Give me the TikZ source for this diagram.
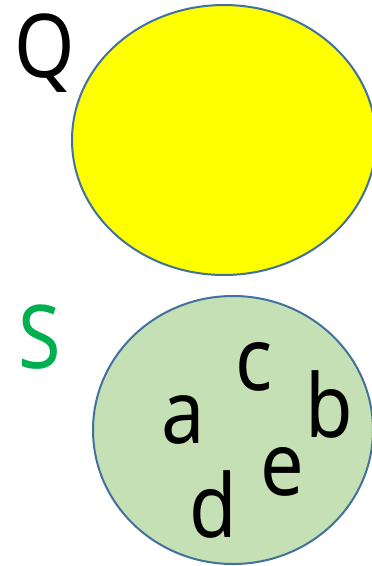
\documentclass[tikz,border=0pt]{standalone}
\usepackage{fontspec}
\setmainfont{Noto Sans}
\newfontfamily\lblfont[FakeStretch=0.88]{Noto Sans}
\definecolor{ol}{RGB}{65,113,156}
\definecolor{lgreen}{RGB}{197,224,180}
\definecolor{sgreen}{RGB}{0,176,80}
\definecolor{syellow}{RGB}{255,255,0}
\tikzset{lbl/.style={anchor=base,inner sep=0pt,font=\lblfont\fontsize{88}{88}\selectfont},
  setshape/.style={draw=ol,line width=2pt}}
\begin{document}
\begin{tikzpicture}[x=1pt,y=-1pt]
\useasboundingbox (0,0) rectangle (372,566);
\begin{scope}
\clip (0,0) rectangle (372,566);
\filldraw[setshape,fill=syellow] (224,140) ellipse [x radius=152,y radius=135];
\filldraw[setshape,fill=lgreen] (233,430) ellipse [x radius=140,y radius=134];
\end{scope}
\node[lbl] (Q) at (44.5,77) {Q};
\node[lbl,text=sgreen] (S) at (40,368) {S};
\node[lbl] (a) at (183.5,443) {a};
\node[lbl] (c) at (254.5,390) {c};
\node[lbl] (b) at (329,437) {b};
\node[lbl] (e) at (282.5,495) {e};
\node[lbl] (d) at (213.5,537) {d};
\end{tikzpicture}
\end{document}
